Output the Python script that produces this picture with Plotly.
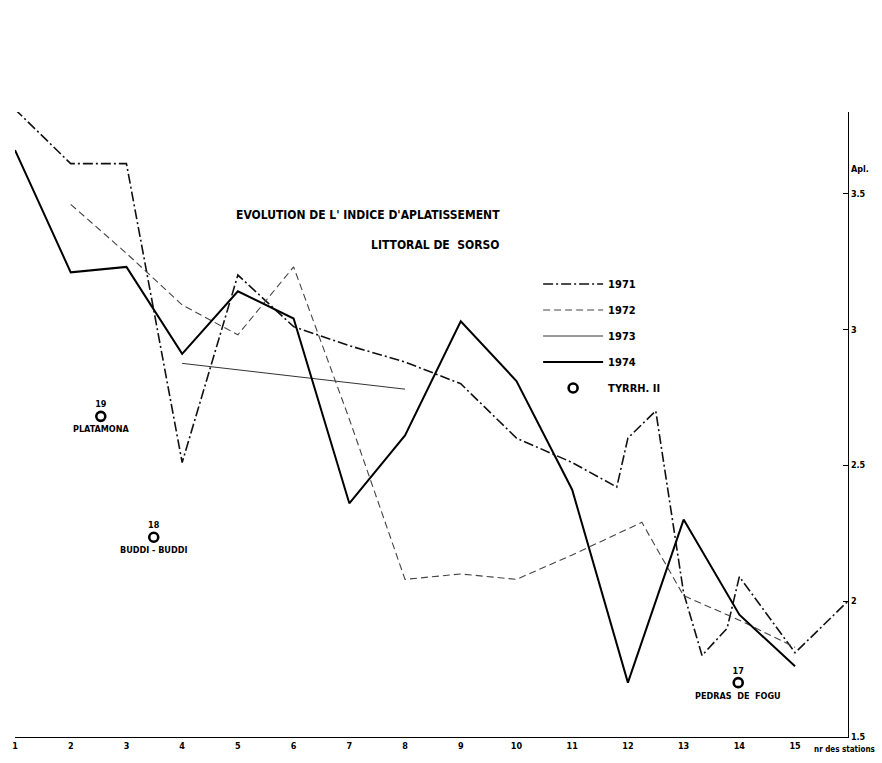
import plotly.graph_objects as go

# Station numbers along the coast (fractional values = intermediate sampling points)
stations_1971 = [1, 2, 3, 4, 5, 6, 7, 8, 9, 10, 11, 11.8, 12, 12.5, 13, 13.33, 13.78, 14, 15, 15.95]
apl_1971 = [3.81, 3.61, 3.61, 2.51, 3.20, 3.01, 2.94, 2.88, 2.80, 2.60, 2.51, 2.42, 2.60, 2.70, 2.03, 1.80, 1.90, 2.09, 1.81, 2.00]

stations_1972 = [2, 3, 4, 5, 6, 7, 8, 9, 10, 11, 12.25, 13, 14, 15]
apl_1972 = [3.46, 3.28, 3.09, 2.98, 3.23, 2.67, 2.08, 2.10, 2.08, 2.17, 2.29, 2.02, 1.93, 1.83]

stations_1973 = [4, 8]
apl_1973 = [2.875, 2.78]

stations_1974 = [1, 2, 3, 4, 5, 6, 7, 8, 9, 10, 11, 12, 13, 14, 15]
apl_1974 = [3.66, 3.21, 3.23, 2.91, 3.14, 3.04, 2.36, 2.61, 3.03, 2.81, 2.41, 1.70, 2.30, 1.95, 1.76]

# Tyrrhenian II reference stations
tyrrh_x = [2.54, 3.49, 13.98]
tyrrh_y = [2.68, 2.235, 1.70]
tyrrh_num = ["19", "18", "17"]
tyrrh_name = ["PLATAMONA", "BUDDI - BUDDI", "PEDRAS  DE  FOGU"]

station_ticks = list(range(1, 16))
station_labels = [str(s) for s in station_ticks]
apl_ticks = [1.5, 2, 2.5, 3, 3.5]
apl_labels = ["1.5", "2", "2.5", "3", "3.5"]

FONT = "DejaVu Sans Condensed, Liberation Sans Narrow, sans-serif"

fig = go.Figure()

fig.add_trace(go.Scatter(x=stations_1971, y=apl_1971, mode="lines", name="1971",
                         legendgroup="a",
                         line=dict(color="#111", width=1.6, dash="10px,3px,2px,3px")))
fig.add_trace(go.Scatter(x=stations_1972, y=apl_1972, mode="lines", name="1972",
                         legendgroup="b",
                         line=dict(color="#444", width=1.1, dash="7px,4px")))
fig.add_trace(go.Scatter(x=stations_1973, y=apl_1973, mode="lines", name="1973",
                         legendgroup="c",
                         line=dict(color="#333", width=1.0)))
fig.add_trace(go.Scatter(x=stations_1974, y=apl_1974, mode="lines", name="1974",
                         legendgroup="d",
                         line=dict(color="#000", width=2.0)))
fig.add_trace(go.Scatter(x=tyrrh_x, y=tyrrh_y, mode="markers+text", name="TYRRH. II",
                         legendgroup="e",
                         text=tyrrh_num, textposition="top center",
                         textfont=dict(family=FONT, size=9, color="#000", weight="bold"),
                         marker=dict(symbol="circle-open", size=9, color="#000",
                                     line=dict(width=2.6, color="#000"))))

for xv, yv, nm in zip(tyrrh_x, tyrrh_y, tyrrh_name):
    fig.add_annotation(x=xv, y=yv, text=nm, showarrow=False, yshift=-13,
                       font=dict(family=FONT, size=9, color="#000", weight="bold"))

fig.add_annotation(xref="paper", yref="paper", x=0.585, y=0.849, xanchor="right",
                   text="EVOLUTION DE L' INDICE D'APLATISSEMENT", showarrow=False,
                   font=dict(family=FONT, size=12, color="#000", weight="bold"))
fig.add_annotation(xref="paper", yref="paper", x=0.583, y=0.802, xanchor="right",
                   text="LITTORAL DE  SORSO", showarrow=False,
                   font=dict(family=FONT, size=12, color="#000", weight="bold"))
fig.add_annotation(xref="paper", yref="y", x=1.0, y=3.59, xanchor="left", xshift=1,
                   text="Apl.", showarrow=False,
                   font=dict(family=FONT, size=9, color="#000", weight="bold"))
fig.add_annotation(xref="x", yref="paper", x=15.3, y=0, xanchor="left", yanchor="top",
                   yshift=-6, text="nr des stations", showarrow=False,
                   font=dict(family=FONT, size=8, color="#000", weight="bold"))

fig.update_layout(
    width=882, height=763,
    margin=dict(l=15, r=34, t=112, b=16),
    paper_bgcolor="white", plot_bgcolor="white",
    font=dict(family=FONT, color="#000"),
    showlegend=True,
    legend=dict(x=0.628, y=0.748, xanchor="left", yanchor="top",
                bgcolor="rgba(0,0,0,0)", traceorder="grouped", tracegroupgap=7,
                itemwidth=60,
                font=dict(family=FONT, size=11, color="#000", weight="bold")),
    xaxis=dict(range=[1, 15.95], showgrid=False, zeroline=False, showline=True,
               linecolor="#000", linewidth=1.2, tickmode="array",
               tickvals=station_ticks, ticktext=station_labels, ticks="",
               tickfont=dict(family=FONT, size=9, color="#000", weight="bold")),
    yaxis=dict(range=[1.5, 3.8], side="right", showgrid=False, zeroline=False,
               showline=True, linecolor="#000", linewidth=1.2, mirror=False,
               tickmode="array", tickvals=apl_ticks, ticktext=apl_labels,
               ticks="inside", ticklen=5, tickcolor="#000",
               tickfont=dict(family=FONT, size=9, color="#000", weight="bold")),
)

fig.write_html("out.html")
